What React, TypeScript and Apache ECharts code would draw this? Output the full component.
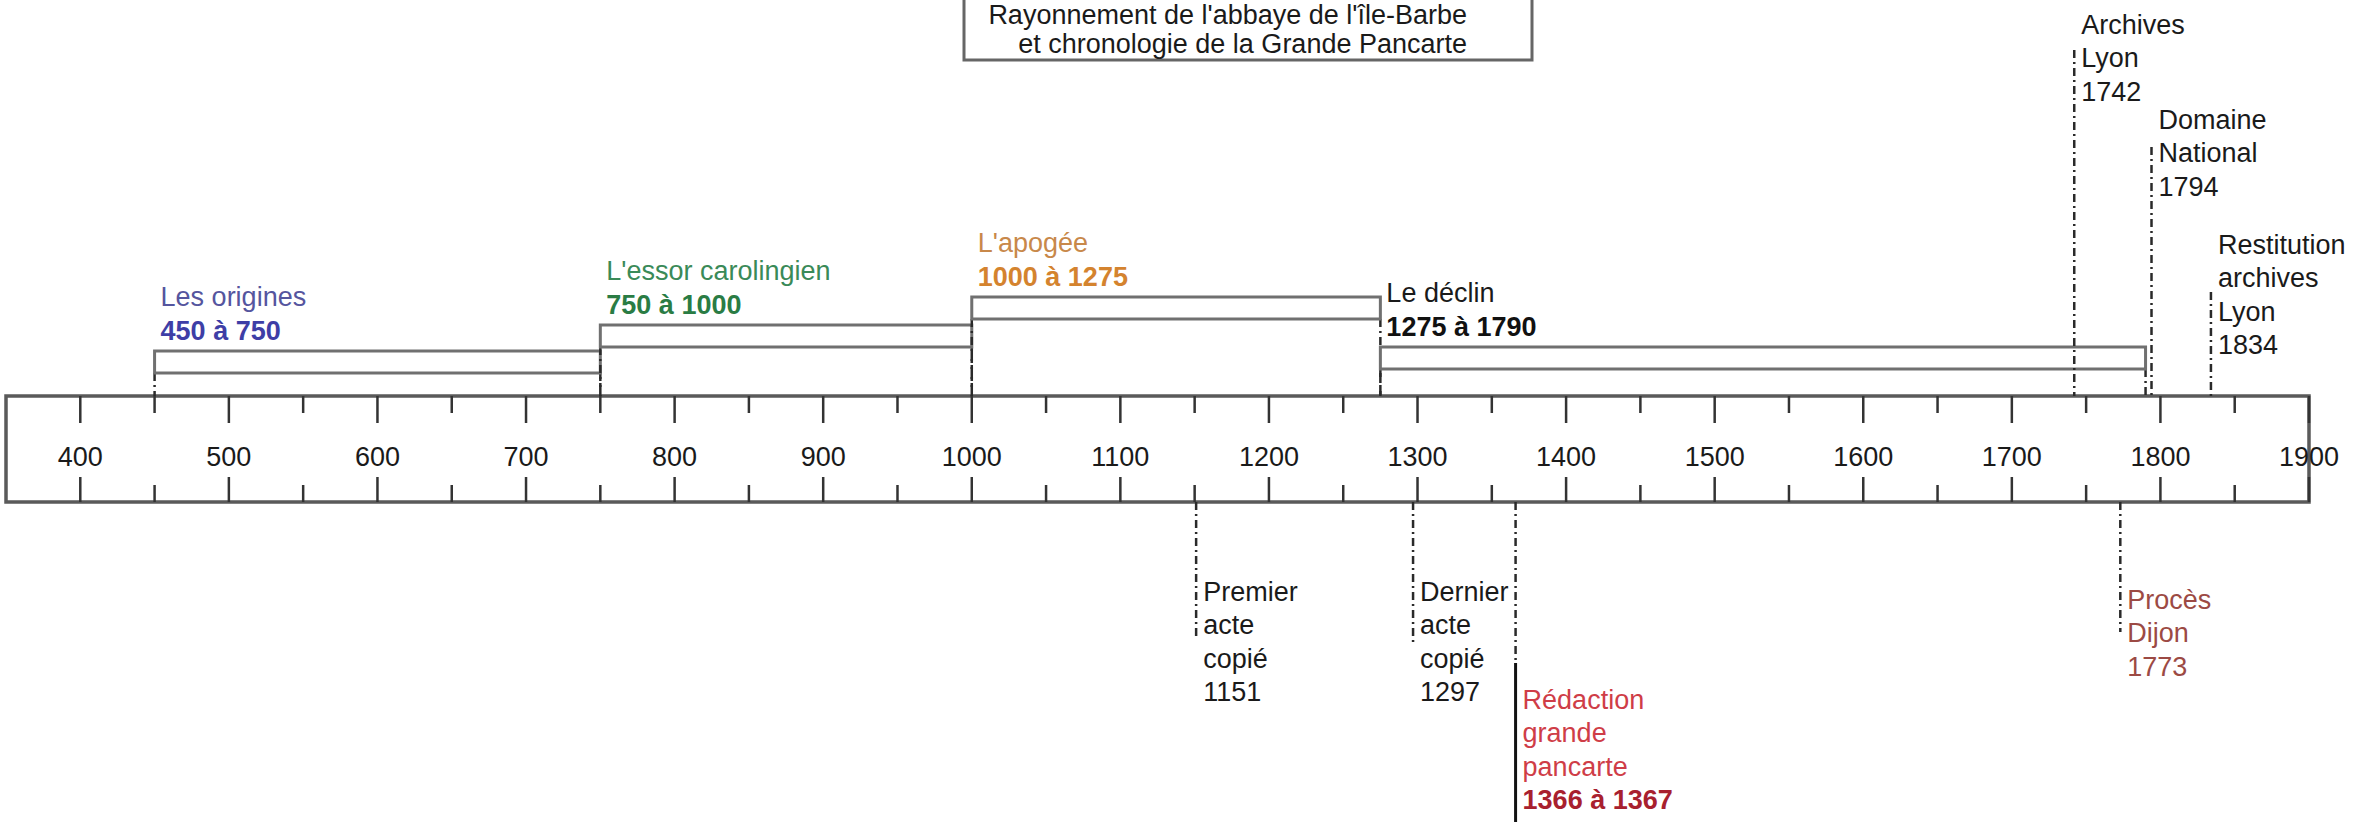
import React, { useEffect, useRef } from "react";
import * as echarts from "echarts";

// ---------------- DATA ----------------
const AXIS_MIN = 350;
const AXIS_MAX = 1900;
const MAJOR_TICKS = [400, 500, 600, 700, 800, 900, 1000, 1100, 1200, 1300, 1400, 1500, 1600, 1700, 1800, 1900];
const MINOR_TICKS = [450, 550, 650, 750, 850, 950, 1050, 1150, 1250, 1350, 1450, 1550, 1650, 1750, 1850];

const PERIOD_NAMES = ["Les origines", "L'essor carolingien", "L'apogée", "Le déclin"];
const PERIOD_START = [450, 750, 1000, 1275];
const PERIOD_END = [750, 1000, 1275, 1790];

const ABOVE_YEARS = [1742, 1794, 1834];
const ABOVE_TEXTS = [
  ["Archives", "Lyon", "1742"],
  ["Domaine", "National", "1794"],
  ["Restitution", "archives", "Lyon", "1834"],
];

const BELOW_YEARS = [1151, 1297, 1366, 1773];
const BELOW_TEXTS = [
  ["Premier", "acte", "copié", "1151"],
  ["Dernier", "acte", "copié", "1297"],
  ["Rédaction", "grande", "pancarte", "1366 à 1367"],
  ["Procès", "Dijon", "1773"],
];

const TITLE_LINES = ["Rayonnement de l'abbaye de l'île-Barbe", "et chronologie de la Grande Pancarte"];

// ---------------- LAYOUT / STYLE ----------------
const W = 2356;
const H = 822;
const FONT_FAMILY = '"Liberation Sans", Arial, sans-serif';
const FS = 27;
const LINE_H = 33.3;
const RULER_TOP = 396;
const RULER_BOTTOM = 502;
const LABEL_Y = 457;
const PERIOD_BOX_TOP = [351, 325, 297, 347];
const BOX_H = 22;
const PERIOD_NAME_COLORS = ["#55559e", "#3a8a58", "#c8884a", "#1a1a1a"];
const PERIOD_RANGE_COLORS = ["#3e3ea6", "#2a7c44", "#d4832e", "#111111"];
const ABOVE_LINE_TOP = [50, 147, 292];
const ABOVE_TEXT_Y = [25, 120, 245];
const BELOW_LINE_END = [640, 642, 663, 632];
const BELOW_SOLID_END = [0, 0, 822, 0];
const BELOW_TEXT_Y = [592, 592, 700, 600];
const BELOW_COLORS = ["#1a1a1a", "#1a1a1a", "#cf3d47", "#9c4a44"];
const BELOW_LAST_COLORS = ["#1a1a1a", "#1a1a1a", "#a8202e", "#9c4a44"];
const BELOW_LAST_BOLD = [false, false, true, false];
const DASH = [8, 4, 2, 4];
const DASH_COLOR = "#2a2a2a";

const font = (bold: boolean) => `${bold ? "bold " : ""}${FS}px ${FONT_FAMILY}`;

const textEl = (x: number, y: number, text: string, fill: string, bold = false, align = "left") => ({
  type: "text",
  x,
  y,
  style: { text, fill, font: font(bold), align, verticalAlign: "middle" },
});

const dashLine = (x: number, y1: number, y2: number) => ({
  type: "line",
  shape: { x1: x, y1, x2: x, y2 },
  style: { stroke: DASH_COLOR, lineWidth: 2.5, lineDash: DASH },
});

export default function App() {
  const ref = useRef<HTMLDivElement>(null);

  useEffect(() => {
    if (!ref.current) return;
    const chart = echarts.init(ref.current, undefined, { renderer: "svg" });

    const option: any = {
      animation: false,
      backgroundColor: "#ffffff",
      grid: { left: 6, right: W - 2309, top: 0, bottom: 0 },
      xAxis: { type: "value", min: AXIS_MIN, max: AXIS_MAX, show: false },
      yAxis: { type: "value", min: 0, max: H, inverse: true, show: false },
      graphic: [
        {
          type: "rect",
          shape: { x: 964, y: -40, width: 568, height: 100 },
          style: { fill: "#ffffff", stroke: "#666666", lineWidth: 3 },
        },
        textEl(1467, 15, TITLE_LINES[0], "#1a1a1a", false, "right"),
        textEl(1467, 44, TITLE_LINES[1], "#1a1a1a", false, "right"),
      ],
      series: [
        // ruler frame
        {
          type: "custom",
          name: "ruler",
          silent: true,
          clip: false,
          data: [[AXIS_MIN, AXIS_MAX]],
          renderItem: (params: any, api: any) => {
            const a = api.coord([api.value(0), RULER_TOP]);
            const b = api.coord([api.value(1), RULER_BOTTOM]);
            return {
              type: "rect",
              shape: { x: a[0], y: a[1], width: b[0] - a[0], height: b[1] - a[1] },
              style: { fill: "#ffffff", stroke: "#5a5a5a", lineWidth: 3.5 },
            };
          },
        },
        // major ticks + labels
        {
          type: "custom",
          name: "major",
          silent: true,
          clip: false,
          z: 3,
          data: MAJOR_TICKS.map((v) => [v]),
          renderItem: (params: any, api: any) => {
            const v = api.value(0);
            const x = api.coord([v, 0])[0];
            return {
              type: "group",
              children: [
                { type: "line", shape: { x1: x, y1: RULER_TOP, x2: x, y2: RULER_TOP + 27 }, style: { stroke: "#333", lineWidth: 2.5 } },
                { type: "line", shape: { x1: x, y1: RULER_BOTTOM - 25, x2: x, y2: RULER_BOTTOM }, style: { stroke: "#333", lineWidth: 2.5 } },
                textEl(x, LABEL_Y, String(v), "#1a1a1a", false, "center"),
              ],
            };
          },
        },
        // minor ticks
        {
          type: "custom",
          name: "minor",
          silent: true,
          clip: false,
          z: 3,
          data: MINOR_TICKS.map((v) => [v]),
          renderItem: (params: any, api: any) => {
            const x = api.coord([api.value(0), 0])[0];
            return {
              type: "group",
              children: [
                { type: "line", shape: { x1: x, y1: RULER_TOP, x2: x, y2: RULER_TOP + 17 }, style: { stroke: "#333", lineWidth: 2.5 } },
                { type: "line", shape: { x1: x, y1: RULER_BOTTOM - 17, x2: x, y2: RULER_BOTTOM }, style: { stroke: "#333", lineWidth: 2.5 } },
              ],
            };
          },
        },
        // periods
        {
          type: "custom",
          name: "periods",
          silent: true,
          clip: false,
          z: 4,
          data: PERIOD_START.map((s, i) => [s, PERIOD_END[i]]),
          renderItem: (params: any, api: any) => {
            const i = params.dataIndex;
            const s = api.value(0);
            const e = api.value(1);
            const x1 = api.coord([s, 0])[0];
            const x2 = api.coord([e, 0])[0];
            const top = PERIOD_BOX_TOP[i];
            const bot = top + BOX_H;
            return {
              type: "group",
              children: [
                dashLine(x1, bot, RULER_TOP),
                dashLine(x2, bot, RULER_TOP),
                {
                  type: "rect",
                  shape: { x: x1, y: top, width: x2 - x1, height: BOX_H },
                  style: { fill: "#ffffff", stroke: "#707070", lineWidth: 3 },
                },
                textEl(x1 + 6, top - 54, PERIOD_NAMES[i], PERIOD_NAME_COLORS[i]),
                textEl(x1 + 6, top - 20, `${s} à ${e}`, PERIOD_RANGE_COLORS[i], true),
              ],
            };
          },
        },
        // events above
        {
          type: "custom",
          name: "above",
          silent: true,
          clip: false,
          z: 5,
          data: ABOVE_YEARS.map((v) => [v]),
          renderItem: (params: any, api: any) => {
            const i = params.dataIndex;
            const x = api.coord([api.value(0), 0])[0];
            const children: any[] = [dashLine(x, ABOVE_LINE_TOP[i], RULER_TOP)];
            ABOVE_TEXTS[i].forEach((t, k) => {
              children.push(textEl(x + 7, ABOVE_TEXT_Y[i] + k * LINE_H, t, "#1a1a1a"));
            });
            return { type: "group", children };
          },
        },
        // events below
        {
          type: "custom",
          name: "below",
          silent: true,
          clip: false,
          z: 5,
          data: BELOW_YEARS.map((v) => [v]),
          renderItem: (params: any, api: any) => {
            const i = params.dataIndex;
            const x = api.coord([api.value(0), 0])[0];
            const children: any[] = [dashLine(x, RULER_BOTTOM, BELOW_LINE_END[i])];
            if (BELOW_SOLID_END[i]) {
              children.push({
                type: "line",
                shape: { x1: x, y1: BELOW_LINE_END[i], x2: x, y2: BELOW_SOLID_END[i] },
                style: { stroke: "#111", lineWidth: 3 },
              });
            }
            const lines = BELOW_TEXTS[i];
            lines.forEach((t, k) => {
              const last = k === lines.length - 1;
              children.push(
                textEl(
                  x + 7,
                  BELOW_TEXT_Y[i] + k * LINE_H,
                  t,
                  last ? BELOW_LAST_COLORS[i] : BELOW_COLORS[i],
                  last && BELOW_LAST_BOLD[i]
                )
              );
            });
            return { type: "group", children };
          },
        },
      ],
    };

    chart.setOption(option);
    return () => chart.dispose();
  }, []);

  return <div ref={ref} style={{ position: "absolute", left: 0, top: 0, width: W, height: H }} />;
}
